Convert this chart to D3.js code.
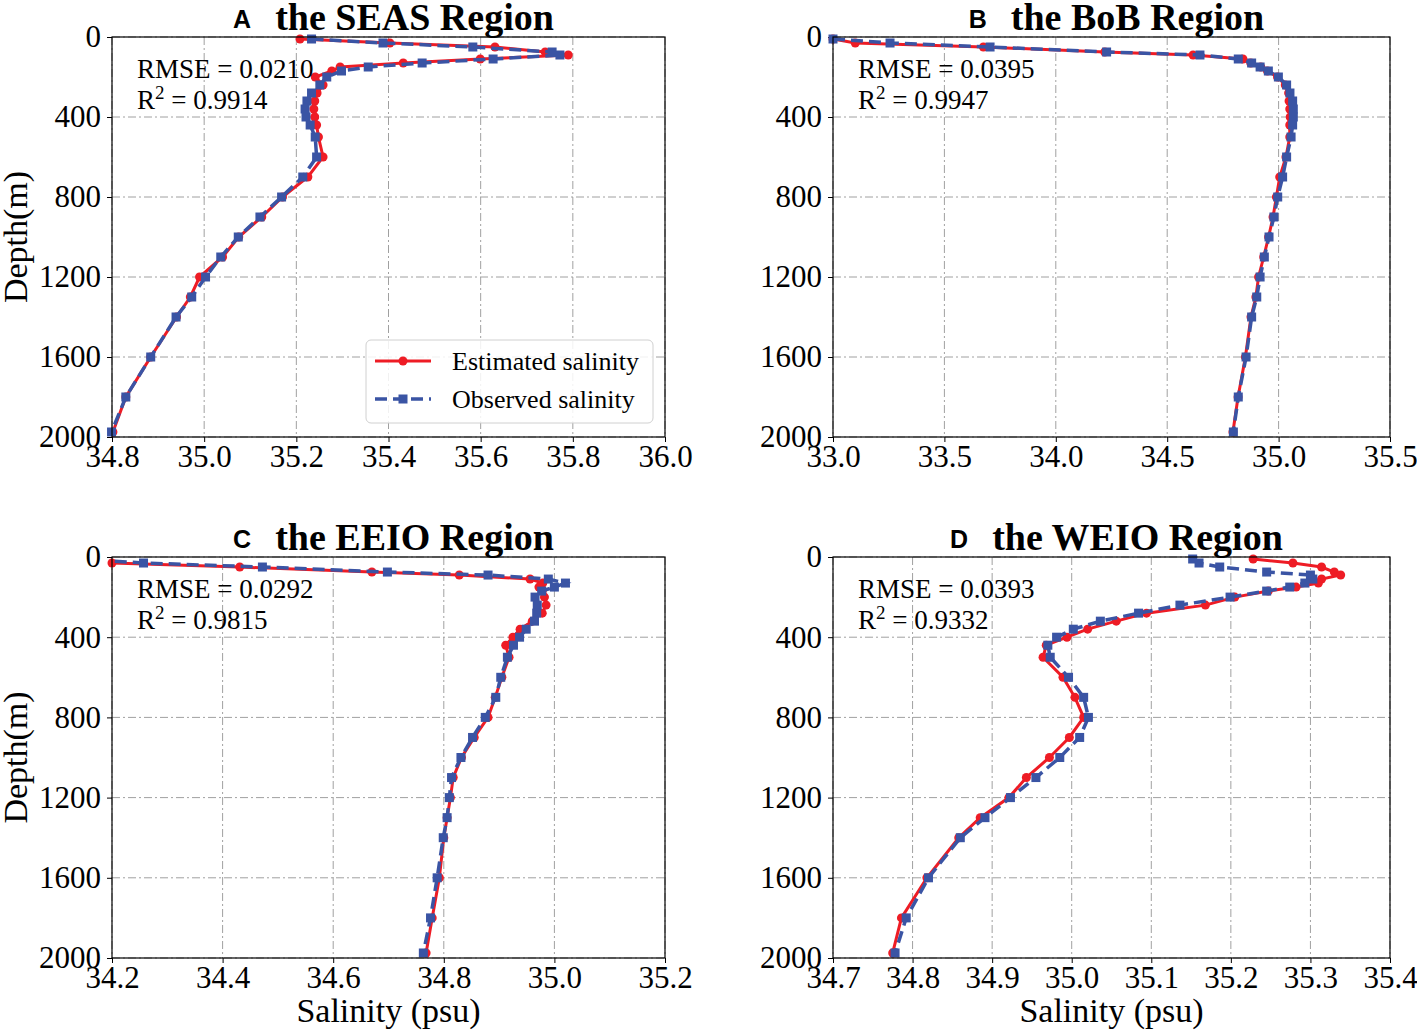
<!DOCTYPE html>
<html>
<head>
<meta charset="utf-8">
<script src="https://cdn.jsdelivr.net/npm/d3@7"></script>
<style>
  body { margin: 0; background: #fff; }
  text { font-family: "Liberation Serif", "Times New Roman", serif; fill: #000; }
</style>
</head>
<body>
<div id="chart"></div>
<script>
// depth levels (m), shared by all four profiles
var depths = [10, 30, 50, 75, 90, 110, 130, 150, 170, 200, 240, 280, 320, 360, 400, 440, 500,
              600, 700, 800, 900, 1000, 1100, 1200, 1300, 1400, 1600, 1800, 1975];

// salinity (psu), estimated vs observed
var seasEst = [35.208, 35.403, 35.631, 35.74, 35.79, 35.599, 35.432, 35.295, 35.277, 35.241, 35.258, 35.245, 35.240,
               35.238, 35.240, 35.244, 35.248, 35.258, 35.225, 35.170, 35.125, 35.075, 35.040, 34.990, 34.970,
               34.940, 34.884, 34.830, 34.802];
var seasObs = [35.233, 35.388, 35.583, 35.755, 35.772, 35.627, 35.473, 35.356, 35.298, 35.266, 35.251, 35.233, 35.223,
               35.219, 35.221, 35.230, 35.241, 35.244, 35.214, 35.168, 35.121, 35.074, 35.036, 35.003, 34.973,
               34.939, 34.884, 34.830, 34.799];
var bobEst = [33.0, 33.10, 33.675, 34.22, 34.616, 34.84, 34.875, 34.92, 34.95, 34.995, 35.03, 35.045, 35.047,
              35.05, 35.052, 35.05, 35.05, 35.033, 35.005, 34.99, 34.975, 34.955, 34.933, 34.91, 34.898,
              34.876, 34.851, 34.818, 34.795];
var bobObs = [33.0, 33.256, 33.705, 34.228, 34.647, 34.819, 34.879, 34.917, 34.954, 34.999, 35.036, 35.051, 35.063,
              35.066, 35.066, 35.063, 35.056, 35.036, 35.018, 34.996, 34.979, 34.957, 34.936, 34.917, 34.902,
              34.879, 34.854, 34.819, 34.797];
var eeioEst = [34.10, 34.20, 34.431, 34.67, 34.828, 34.956, 34.979, 34.972, 34.978, 34.982, 34.985, 34.978, 34.96,
               34.938, 34.925, 34.912, 34.918, 34.905, 34.893, 34.88, 34.855, 34.832, 34.817, 34.812, 34.806,
               34.80, 34.792, 34.779, 34.768];
var eeioObs = [34.14, 34.257, 34.472, 34.698, 34.88, 34.989, 35.02, 35.0, 34.977, 34.965, 34.969, 34.968, 34.964,
               34.949, 34.937, 34.926, 34.915, 34.903, 34.894, 34.875, 34.852, 34.831, 34.814, 34.81, 34.806,
               34.799, 34.788, 34.776, 34.763];
var weioEst = [35.228, 35.278, 35.314, 35.33, 35.338, 35.314, 35.31, 35.282, 35.247, 35.205, 35.168, 35.094, 35.056,
               35.02, 34.994, 34.968, 34.964, 34.989, 35.004, 35.015, 34.997, 34.972, 34.943, 34.921, 34.885,
               34.858, 34.818, 34.786, 34.775];
var weioObs = [35.152, 35.16, 35.186, 35.245, 35.30, 35.303, 35.293, 35.274, 35.245, 35.199, 35.136, 35.084, 35.036,
               35.002, 34.981, 34.970, 34.973, 34.996, 35.015, 35.021, 35.010, 34.985, 34.955, 34.923, 34.891,
               34.86, 34.82, 34.792, 34.778];

// axis ticks
var xTicksA = [34.8, 35.0, 35.2, 35.4, 35.6, 35.8, 36.0];
var xTicksB = [33.0, 33.5, 34.0, 34.5, 35.0, 35.5];
var xTicksC = [34.2, 34.4, 34.6, 34.8, 35.0, 35.2];
var xTicksD = [34.7, 34.8, 34.9, 35.0, 35.1, 35.2, 35.3, 35.4];
var yTicks = [0, 400, 800, 1200, 1600, 2000];

var letters = ["A", "B", "C", "D"];
var titles = ["the SEAS Region", "the BoB Region", "the EEIO Region", "the WEIO Region"];
var rmse = ["0.0210", "0.0395", "0.0292", "0.0393"];
var r2 = ["0.9914", "0.9947", "0.9815", "0.9332"];
var seriesNames = ["Estimated salinity", "Observed salinity"];

var red = "#ee1c25", blue = "#3a54a4";

var svg = d3.select("#chart").append("svg")
    .attr("width", 1417)
    .attr("height", 1032);

var panels = [
  { est: seasEst, obs: seasObs, ticks: xTicksA, left: 112, right: 665, top: 37, bottom: 437, ylab: true, xlab: false, legend: true },
  { est: bobEst, obs: bobObs, ticks: xTicksB, left: 833, right: 1390, top: 37, bottom: 437, ylab: false, xlab: false, legend: false },
  { est: eeioEst, obs: eeioObs, ticks: xTicksC, left: 112, right: 665, top: 557, bottom: 958, ylab: true, xlab: true, legend: false },
  { est: weioEst, obs: weioObs, ticks: xTicksD, left: 833, right: 1390, top: 557, bottom: 958, ylab: false, xlab: true, legend: false }
];

panels.forEach(function(p, i) {
  var x = d3.scaleLinear().domain([p.ticks[0], p.ticks[p.ticks.length - 1]]).range([p.left, p.right]),
      y = d3.scaleLinear().domain([0, 2000]).range([p.top, p.bottom]),
      g = svg.append("g");

  // clip regions
  svg.append("clipPath").attr("id", "clip" + i)
     .append("rect").attr("x", p.left).attr("y", p.top)
     .attr("width", p.right - p.left).attr("height", p.bottom - p.top);
  svg.append("clipPath").attr("id", "mclip" + i)
     .append("rect").attr("x", p.left - 6).attr("y", p.top - 6)
     .attr("width", p.right - p.left + 12).attr("height", p.bottom - p.top + 12);

  // grid
  g.selectAll(".vgrid").data(p.ticks).enter().append("line")
   .attr("x1", function(d) { return x(d) }).attr("x2", function(d) { return x(d) })
   .attr("y1", p.top).attr("y2", p.bottom)
   .attr("stroke", "#a0a0a0").attr("stroke-width", 1).attr("stroke-dasharray", "8,3,2,3");
  g.selectAll(".hgrid").data(yTicks).enter().append("line")
   .attr("y1", function(d) { return y(d) }).attr("y2", function(d) { return y(d) })
   .attr("x1", p.left).attr("x2", p.right)
   .attr("stroke", "#a0a0a0").attr("stroke-width", 1).attr("stroke-dasharray", "8,3,2,3");

  // axes
  var xa = g.append("g").attr("transform", "translate(0," + p.bottom + ")")
            .call(d3.axisBottom(x).tickValues(p.ticks).tickFormat(d3.format(".1f")).tickSize(5).tickSizeOuter(0).tickPadding(3));
  var ya = g.append("g").attr("transform", "translate(" + p.left + ",0)")
            .call(d3.axisLeft(y).tickValues(yTicks).tickFormat(d3.format("d")).tickSize(5).tickSizeOuter(0).tickPadding(6));
  [xa, ya].forEach(function(a) {
    a.select(".domain").remove();
    a.selectAll("text").style("font-family", "Liberation Serif").style("font-size", "31px").attr("fill", "#000");
    a.selectAll("line").attr("stroke", "#000");
  });

  var line = d3.line().x(function(d, k) { return x(d) }).y(function(d, k) { return y(depths[k]) });

  // estimated (red solid, circles)
  g.append("path").datum(p.est).attr("d", line)
   .attr("fill", "none").attr("stroke", red).attr("stroke-width", 3)
   .attr("clip-path", "url(#clip" + i + ")");
  g.selectAll(".est").data(p.est).enter().append("circle")
   .attr("cx", function(d) { return x(d) }).attr("cy", function(d, k) { return y(depths[k]) })
   .attr("r", 4.5).attr("fill", red)
   .attr("clip-path", "url(#mclip" + i + ")");

  // observed (blue dashed, squares)
  g.append("path").datum(p.obs).attr("d", line)
   .attr("fill", "none").attr("stroke", blue).attr("stroke-width", 3.5).attr("stroke-dasharray", "12,6")
   .attr("clip-path", "url(#clip" + i + ")");
  g.selectAll(".obs").data(p.obs).enter().append("rect")
   .attr("x", function(d) { return x(d) - 4.5 }).attr("y", function(d, k) { return y(depths[k]) - 4.5 })
   .attr("width", 9).attr("height", 9).attr("fill", blue)
   .attr("clip-path", "url(#mclip" + i + ")");

  // frame
  g.append("rect").attr("x", p.left).attr("y", p.top)
   .attr("width", p.right - p.left).attr("height", p.bottom - p.top)
   .attr("fill", "none").attr("stroke", "#000").attr("stroke-width", 1.2);

  // stats
  g.append("text").attr("x", p.left + 25).attr("y", p.top + 41)
   .style("font-size", "27px").text("RMSE = " + rmse[i]);
  var r2t = g.append("text").attr("x", p.left + 25).attr("y", p.top + 72).style("font-size", "27px");
  r2t.append("tspan").text("R");
  r2t.append("tspan").attr("dy", -10).style("font-size", "19px").text("2");
  r2t.append("tspan").attr("dy", 10).text(" = " + r2[i]);

  // title
  var cx = (p.left + p.right) / 2 + 26,
      ty = p.top - 7;
  var tt = g.append("text").attr("x", cx).attr("y", ty).attr("text-anchor", "middle")
            .style("font-size", "38px").style("font-weight", "bold").text(titles[i]);
  var tw = tt.node().getComputedTextLength();
  g.append("text").attr("x", cx - tw / 2 - 24).attr("y", ty - 2).attr("text-anchor", "end")
   .style("font-family", "Liberation Sans").style("font-size", "25px").style("font-weight", "bold")
   .text(letters[i]);

  if (p.ylab) {
    g.append("text").attr("transform", "translate(27," + (p.top + p.bottom) / 2 + ") rotate(-90)")
     .attr("text-anchor", "middle").style("font-size", "34px").text("Depth(m)");
  }
  if (p.xlab) {
    g.append("text").attr("x", (p.left + p.right) / 2).attr("y", p.bottom + 64)
     .attr("text-anchor", "middle").style("font-size", "34px").text("Salinity (psu)");
  }

  if (p.legend) {
    var lg = g.append("g");
    lg.append("rect").attr("x", 366).attr("y", 340).attr("width", 287).attr("height", 83)
      .attr("rx", 5).attr("fill", "#fff").attr("fill-opacity", 0.85)
      .attr("stroke", "#d0d0d0").attr("stroke-width", 1);
    var rows = lg.selectAll(".leg").data(seriesNames).enter().append("g")
      .attr("transform", function(d, k) { return "translate(0," + (361 + k * 38) + ")" });
    rows.append("line").attr("x1", 375).attr("x2", 431).attr("y1", 0).attr("y2", 0)
      .attr("stroke", function(d, k) { return k ? blue : red })
      .attr("stroke-width", function(d, k) { return k ? 3.5 : 3 })
      .attr("stroke-dasharray", function(d, k) { return k ? "12,6" : null });
    rows.each(function(d, k) {
      var r = d3.select(this);
      if (k) r.append("rect").attr("x", 398.5).attr("y", -4.5).attr("width", 9).attr("height", 9).attr("fill", blue);
      else r.append("circle").attr("cx", 403).attr("cy", 0).attr("r", 4.5).attr("fill", red);
    });
    rows.append("text").attr("x", 452).attr("y", 9).style("font-size", "26px").text(function(d) { return d });
  }
});
</script>
</body>
</html>
